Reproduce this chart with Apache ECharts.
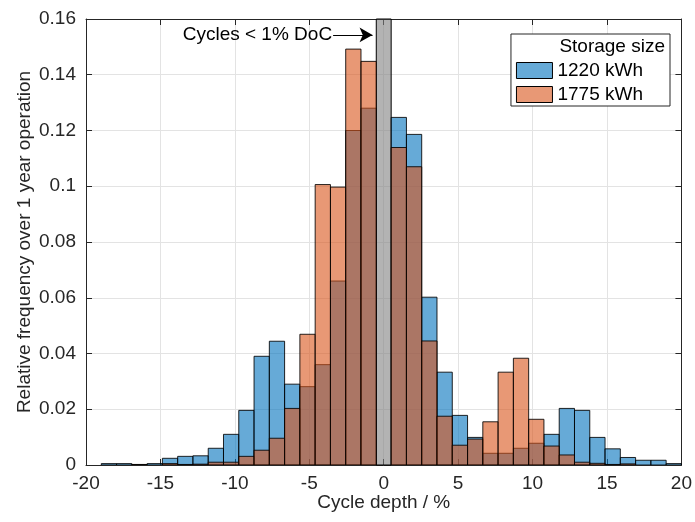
<!DOCTYPE html>
<html>
<head>
<meta charset="utf-8">
<script src="https://cdn.jsdelivr.net/npm/echarts@6/dist/echarts.min.js"></script>
<style>
  html, body { margin: 0; padding: 0; background: #fff; }
  #chart { width: 695px; height: 522px; }
</style>
</head>
<body>
<div id="chart"></div>
<script>
// Histogram bins: 19 bins on each side of the excluded band (-0.5 .. 0.5)
const binsPerSide = 19;
const innerEdge = 0.5;
const outerEdge = 20;

// Relative frequency, negative side listed from -20 towards -0.5
const freq1220Neg = [0, 0.0005, 0.0005, 0.0002, 0.0005, 0.0024, 0.0031, 0.0033, 0.006, 0.011,
  0.0196, 0.039, 0.0444, 0.029, 0.0281, 0.036, 0.066, 0.12, 0.128];
const freq1775Neg = [0, 0, 0, 0.0001, 0, 0.0005, 0.0002, 0.0003, 0.001, 0.001,
  0.0031, 0.0053, 0.0096, 0.0203, 0.0469, 0.1006, 0.0997, 0.1492, 0.1448];
// positive side listed from 0.5 towards 20
const freq1220Pos = [0.1247, 0.1186, 0.0602, 0.0333, 0.0178, 0.0099, 0.0042, 0.0042, 0.006, 0.0078,
  0.011, 0.0203, 0.0196, 0.0099, 0.0058, 0.0027, 0.0017, 0.0017, 0.0005];
const freq1775Pos = [0.1139, 0.107, 0.0445, 0.0175, 0.0071, 0.0093, 0.0155, 0.0333, 0.0383, 0.0164,
  0.0068, 0.0036, 0.001, 0.0006, 0.0002, 0.0004, 0, 0, 0];

const seriesNames = ['1220 kWh', '1775 kWh'];
const xTicks = { min: -20, max: 20, interval: 5 };
const yTicks = { min: 0, max: 0.16, interval: 0.02 };
const bandLabel = 'Cycles < 1% DoC';

const FONT = "'Liberation Sans', Arial, Helvetica, sans-serif";
const FS = 19;
const TEXT = '#262626';

const binWidth = (outerEdge - innerEdge) / binsPerSide;

function toBins(neg, pos) {
  const out = [];
  neg.forEach((v, i) => {
    const left = -outerEdge + i * binWidth;
    out.push([left, left + binWidth, v]);
  });
  pos.forEach((v, i) => {
    const left = innerEdge + i * binWidth;
    out.push([left, left + binWidth, v]);
  });
  return out;
}

function barRenderer(fill) {
  return function (params, api) {
    const v = api.value(2);
    if (!v) return null;
    const p0 = api.coord([api.value(0), v]);
    const p1 = api.coord([api.value(1), 0]);
    return {
      type: 'rect',
      shape: { x: p0[0], y: p0[1], width: p1[0] - p0[0], height: p1[1] - p0[1] },
      style: { fill, stroke: 'rgba(0,0,0,0.85)', lineWidth: 1 },
    };
  };
}

const blueFill = 'rgba(0,114,189,0.6)';
const orangeFill = 'rgba(217,83,25,0.6)';

const axisCommon = {
  axisLine: { show: true, onZero: false, lineStyle: { color: TEXT, width: 1 } },
  axisTick: { show: true, inside: true, length: 6, lineStyle: { color: TEXT } },
  axisLabel: { color: TEXT, fontSize: FS, fontFamily: FONT },
};

const chart = echarts.init(document.getElementById('chart'), null, { renderer: 'canvas' });

chart.setOption({
  animation: false,
  backgroundColor: '#fff',
  grid: { left: 86, right: 12, top: 19, bottom: 57, containLabel: false },
  title: {
    text: 'Storage size',
    right: 30,
    top: 37,
    padding: 0,
    textStyle: { fontSize: FS, fontWeight: 'normal', color: '#000', fontFamily: FONT },
  },
  legend: {
    orient: 'vertical',
    right: 25,
    top: 34,
    padding: [27, 27, 2, 5],
    itemGap: 5,
    itemWidth: 36,
    itemHeight: 16,
    backgroundColor: '#fff',
    borderColor: TEXT,
    borderWidth: 1,
    borderRadius: 0,
    icon: 'rect',
    textStyle: { fontSize: FS, color: '#000', fontFamily: FONT },
    data: [
      { name: seriesNames[0], itemStyle: { color: 'rgb(102,170,215)', borderColor: '#000', borderWidth: 1 } },
      { name: seriesNames[1], itemStyle: { color: 'rgb(232,152,117)', borderColor: '#000', borderWidth: 1 } },
    ],
  },
  xAxis: [
    {
      type: 'value',
      position: 'bottom',
      min: xTicks.min,
      max: xTicks.max,
      interval: xTicks.interval,
      name: 'Cycle depth / %',
      nameLocation: 'middle',
      nameGap: 28,
      nameMoveOverlap: false,
      nameTextStyle: { color: TEXT, fontSize: FS, fontFamily: FONT },
      splitLine: { show: true, lineStyle: { color: '#e3e3e3' } },
      ...axisCommon,
      axisLabel: { ...axisCommon.axisLabel, margin: 9, alignMinLabel: 'center', alignMaxLabel: 'center' },
    },
    {
      type: 'value',
      position: 'top',
      min: xTicks.min,
      max: xTicks.max,
      interval: xTicks.interval,
      splitLine: { show: false },
      ...axisCommon,
      axisLabel: { show: false },
    },
  ],
  yAxis: [
    {
      type: 'value',
      position: 'left',
      min: yTicks.min,
      max: yTicks.max,
      interval: yTicks.interval,
      name: 'Relative frequency over 1 year operation',
      nameLocation: 'middle',
      nameGap: 52,
      nameMoveOverlap: false,
      nameTextStyle: { color: TEXT, fontSize: FS, fontFamily: FONT },
      splitLine: { show: true, lineStyle: { color: '#e3e3e3' } },
      ...axisCommon,
      axisLabel: {
        ...axisCommon.axisLabel,
        margin: 10,
        verticalAlignMinLabel: 'middle',
        verticalAlignMaxLabel: 'middle',
      },
    },
    {
      type: 'value',
      position: 'right',
      min: yTicks.min,
      max: yTicks.max,
      interval: yTicks.interval,
      splitLine: { show: false },
      ...axisCommon,
      axisLabel: { show: false },
    },
  ],
  series: [
    {
      name: seriesNames[0],
      type: 'custom',
      clip: true,
      itemStyle: { color: 'rgb(102,170,215)' },
      encode: { x: [0, 1], y: 2 },
      renderItem: barRenderer(blueFill),
      data: toBins(freq1220Neg, freq1220Pos),
      z: 2,
    },
    {
      name: seriesNames[1],
      type: 'custom',
      clip: true,
      itemStyle: { color: 'rgb(232,152,117)' },
      encode: { x: [0, 1], y: 2 },
      renderItem: barRenderer(orangeFill),
      data: toBins(freq1775Neg, freq1775Pos),
      z: 3,
    },
    {
      name: 'band',
      type: 'line',
      data: [],
      z: 4,
      markArea: {
        silent: true,
        itemStyle: { color: 'rgba(128,128,128,0.6)', borderColor: '#000', borderWidth: 1 },
        data: [[{ xAxis: -innerEdge, yAxis: yTicks.min }, { xAxis: innerEdge, yAxis: yTicks.max }]],
      },
      markLine: {
        silent: true,
        symbol: ['none', 'arrow'],
        symbolSize: [11, 13],
        lineStyle: { color: '#000', width: 1, type: 'solid' },
        label: {
          show: true,
          position: 'start',
          formatter: bandLabel,
          color: '#000',
          fontSize: FS,
          fontFamily: FONT,
          distance: 1,
        },
        data: [[{ coord: [-3.4, 0.1543] }, { coord: [-0.75, 0.1543] }]],
      },
    },
  ],
});
</script>
</body>
</html>
